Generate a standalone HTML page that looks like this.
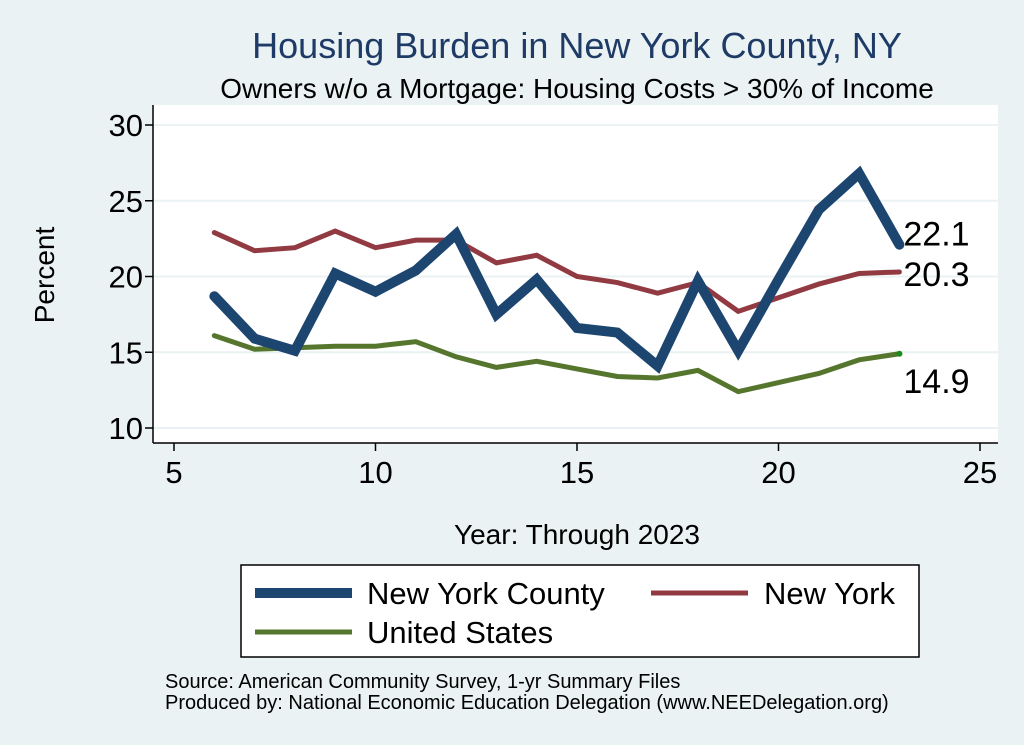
<!DOCTYPE html>
<html><head><meta charset="utf-8"><style>
body{margin:0;background:#eaf2f3;}
svg{display:block;font-family:"Liberation Sans",sans-serif;}
</style></head><body>
<svg id="chart" width="1024" height="745">
<rect x="0" y="0" width="1024" height="745" fill="#eaf2f3"/>
<text x="577" y="58" text-anchor="middle" font-size="36" fill="#1e3a66">Housing Burden in New York County, NY</text>
<text x="577" y="98" text-anchor="middle" font-size="28" fill="#000">Owners w/o a Mortgage: Housing Costs &gt; 30% of Income</text>
<rect x="153" y="105" width="845" height="338" fill="#fff"/>
<g id="grid"></g><g id="axes"></g><g id="series"></g>
<text transform="translate(54,275) rotate(-90)" text-anchor="middle" font-size="28">Percent</text>
<text x="577" y="544" text-anchor="middle" font-size="28">Year: Through 2023</text>
<g>
<rect x="241" y="565" width="678" height="92" fill="#fff" stroke="#000" stroke-width="1.5"/>
<line x1="255" y1="593" x2="352" y2="593" stroke="#1c4670" stroke-width="10"/>
<text x="367" y="604" font-size="31">New York County</text>
<line x1="651" y1="593" x2="748" y2="593" stroke="#923a42" stroke-width="5"/>
<text x="764" y="604" font-size="31">New York</text>
<line x1="255" y1="632" x2="352" y2="632" stroke="#56762e" stroke-width="5"/>
<text x="367" y="643" font-size="31">United States</text>
</g>
<text x="165" y="688" font-size="20">Source: American Community Survey, 1-yr Summary Files</text>
<text x="165" y="709" font-size="20">Produced by: National Economic Education Delegation (www.NEEDelegation.org)</text>
</svg>
<script>
const years=[6,7,8,9,10,11,12,13,14,15,16,17,18,19,20,21,22,23];
const countyVals=[18.7,15.9,15.1,20.2,19.0,20.4,22.8,17.5,19.8,16.6,16.3,14.1,19.7,15.1,19.8,24.4,26.8,22.1];
const nyVals=[22.9,21.7,21.9,23.0,21.9,22.4,22.4,20.9,21.4,20.0,19.6,18.9,19.6,17.7,18.6,19.5,20.2,20.3];
const usVals=[16.1,15.2,15.3,15.4,15.4,15.7,14.7,14.0,14.4,13.9,13.4,13.3,13.8,12.4,13.0,13.6,14.5,14.9];
const xTicks=[5,10,15,20,25];
const yTicks=[10,15,20,25,30];
const NS="http://www.w3.org/2000/svg";
const xs=v=>174+(v-5)*(980-174)/20;
const ys=v=>428-(v-10)*(428-125)/20;
function mk(tag,attrs,parent){const e=document.createElementNS(NS,tag);for(const k in attrs)e.setAttribute(k,attrs[k]);parent.appendChild(e);return e;}
const grid=document.getElementById('grid'),axes=document.getElementById('axes'),ser=document.getElementById('series');
yTicks.forEach(t=>{
 const g=mk('line',{x1:153,x2:998,y1:ys(t),y2:ys(t),stroke:'#eaf2f3','stroke-width':2},grid);
 
 
 const tk=mk('line',{x1:145,x2:153,y1:ys(t),y2:ys(t),stroke:'#000','stroke-width':1.5},axes);
 
 
 const tx=mk('text',{x:143,y:ys(t)+11,'text-anchor':'end','font-size':31},axes);
 tx.textContent=t;
 
 
});
xTicks.forEach(t=>{
 const tk=mk('line',{x1:xs(t),x2:xs(t),y1:443,y2:451,stroke:'#000','stroke-width':1.5},axes);
 
 
 const tx=mk('text',{x:xs(t),y:483,'text-anchor':'middle','font-size':31},axes);
 tx.textContent=t;
 
 
});
const ya=mk('line',{x1:153,x2:153,y1:105,y2:443,stroke:'#000','stroke-width':1.5},axes);


const xa=mk('line',{x1:153,x2:998,y1:443,y2:443,stroke:'#000','stroke-width':1.5},axes);


function line(vals,color,w,name){
 const p=mk('polyline',{points:vals.map((v,i)=>xs(years[i])+','+ys(v)).join(' '),fill:'none',stroke:color,'stroke-width':w,'stroke-linejoin':'miter','stroke-linecap':'round'},ser);
 
 
}
line(usVals,'#56762e',5,'line-united-states');
line(nyVals,'#923a42',5,'line-new-york');
line(countyVals,'#1c4670',10,'line-new-york-county');
const last=years.length-1;
const dot=mk('circle',{cx:xs(years[last]),cy:ys(usVals[last]),r:3,fill:'#1a8a1a'},ser);


[[countyVals,-5,'label-county'],[nyVals,8,'label-ny'],[usVals,33,'label-us']].forEach(([v,dy,n])=>{
 const t=mk('text',{x:xs(years[last])+4,y:ys(v[last])+dy+6,'font-size':34},ser);
 t.textContent=v[last].toFixed(1);
 
 
});
</script>
</body></html>
